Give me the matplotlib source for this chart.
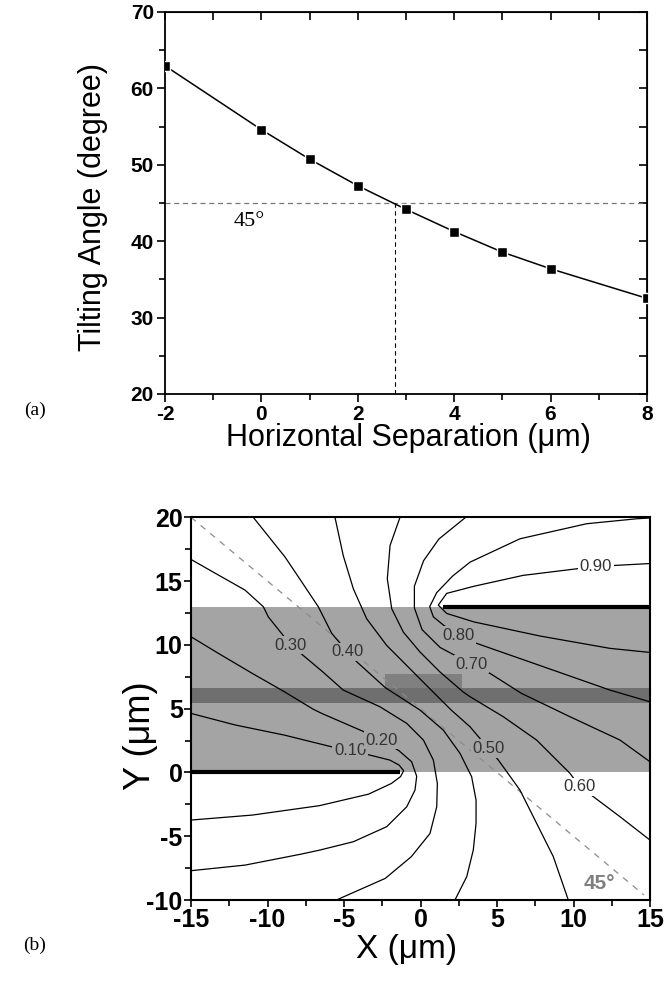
import matplotlib
matplotlib.use("Agg")
import matplotlib.pyplot as plt
from matplotlib.ticker import MultipleLocator

plt.rcParams["axes.unicode_minus"] = False
SANS = "Liberation Sans"
SERIF = "Liberation Serif"

# ---------------- data: panel (a) ----------------
separation = [-2, 0, 1, 2, 3, 4, 5, 6, 8]
tilt_angle = [62.96, 54.6, 50.74, 47.26, 44.17, 41.26, 38.57, 36.39, 32.52]
ref_angle = 45.0
cross_sep = 2.77

# ---------------- data: panel (b) ----------------
lc_layer_x = [-15, 15]
lc_layer_y = [0, 13]
band_y = [5.45, 6.6]
block_x = [-2.3, 2.7]
block_y = [6.6, 7.7]
elec_bottom_x = [-15, -1.35]
elec_bottom_y = [0, 0]
elec_top_x = [1.5, 15]
elec_top_y = [13, 13]
diag_x = [-15, 14.6]
diag_y = [20, -9.6]

c10_x = [-15.0, -12.1, -8.9, -5.8, -3.3, -2.0, -1.4, -1.1, -1.3, -1.9, -3.4, -6.6, -11.0, -15.0]
c10_y = [4.63, 3.72, 2.93, 2.01, 1.36, 0.97, 0.58, 0.14, -0.32, -0.86, -1.7, -2.6, -3.34, -3.73]
c20_x = [-15.0, -13.2, -11.0, -8.9, -7.0, -6.4, -3.8, -2.5, -1.4, -0.58, -0.25, -0.36, -0.9, -2.21, -4.39, -6.57, -7.8, -11.46, -15.0]
c20_y = [10.64, 9.33, 7.77, 6.33, 4.95, 4.6, 3.25, 2.5, 1.7, 0.84, -0.3, -1.38, -2.69, -4.25, -5.43, -6.08, -6.4, -7.26, -7.7]
c30_x = [-15.0, -13.2, -11.47, -10.27, -9.95, -9.08, -8.5, -7.77, -6.4, -5.05, -2.65, -0.9, 0.19, 0.84, 1.1, 1.06, 0.62, -0.6, -2.3, -5.5]
c30_y = [16.7, 15.47, 14.3, 12.99, 12.2, 10.9, 10.0, 9.28, 7.9, 6.46, 5.15, 3.85, 2.54, 0.97, -0.86, -2.69, -4.78, -6.6, -8.3, -10.0]
c40_x = [-10.93, -8.86, -7.83, -6.68, -5.8, -4.78, -4.17, -2.3, -0.03, 1.49, 2.58, 3.34, 3.63, 3.63, 3.45, 3.02, 2.25]
c40_y = [20.0, 16.9, 15.06, 12.99, 10.9, 9.46, 8.68, 6.65, 4.89, 3.32, 1.5, -0.33, -2.16, -3.99, -6.08, -8.17, -10.0]
c50_x = [-5.59, -5.05, -4.39, -3.52, -2.21, -0.69, 0.83, 2.0, 3.24, 4.43, 5.09, 6.5, 7.59, 8.68, 9.66]
c50_y = [20.0, 17.0, 14.4, 12.05, 9.96, 8.13, 6.3, 4.9, 3.58, 1.89, 0.97, -1.38, -3.99, -6.6, -10.0]
c60_x = [-1.34, -1.99, -2.17, -1.88, -1.12, -0.03, 1.28, 2.8, 3.24, 5.41, 7.59, 9.77, 10.42, 11.3, 13.04, 15.0]
c60_y = [20.0, 17.8, 15.19, 12.83, 11.0, 9.44, 7.87, 6.3, 5.94, 4.37, 2.54, -0.07, -1.12, -1.9, -3.47, -5.3]
c70_x = [2.95, 1.2, 0.2, -0.4, -0.4, 0.1, 1.28, 2.37, 3.34, 4.54, 6.6, 9.77, 13.04, 15.0]
c70_y = [20.0, 18.3, 16.6, 14.6, 12.9, 11.2, 9.8, 9.1, 8.5, 7.77, 6.2, 4.37, 2.54, 0.84]
c80_x = [15.0, 14.13, 10.86, 6.5, 3.24, 2.1, 1.06, 0.6, 0.84, 1.5, 2.47, 3.67, 8.03, 12.38, 15.0]
c80_y = [19.95, 19.89, 19.5, 18.32, 16.49, 15.4, 14.1, 13.0, 12.2, 11.55, 10.77, 10.12, 8.29, 6.46, 5.54]
c90_x = [15.0, 11.45, 6.7, 3.5, 1.71, 1.16, 1.71, 3.5, 7.8, 12.38, 15.0]
c90_y = [16.38, 16.15, 15.45, 14.6, 14.04, 13.12, 12.47, 11.8, 10.7, 9.73, 9.41]

contour_labels = ["0.10", "0.20", "0.30", "0.40", "0.50", "0.60", "0.70", "0.80", "0.90"]
label_x = [-4.6, -2.54, -8.53, -4.78, 4.43, 10.42, 3.34, 2.47, 11.45]
label_y = [1.7, 2.54, 9.99, 9.46, 1.89, -1.12, 8.5, 10.77, 16.13]

LIGHT = "#a4a4a4"
BAND = "#6f6f6f"
BLOCK = "#808080"

fig = plt.figure(figsize=(6.66, 9.83), dpi=100)

# ================= panel (a) =================
axA = fig.add_axes([0.2477, 0.5992, 0.7237, 0.3886])
axA.plot(separation, tilt_angle, color="k", lw=1.1, zorder=3)
axA.plot(separation, tilt_angle, ls="none", marker="s", ms=7, mfc="k",
         mec="white", mew=1.0, zorder=4)
axA.plot([separation[0], separation[-1]], [ref_angle, ref_angle],
         ls=(0, (4, 3)), color="#777777", lw=0.9, zorder=2)
axA.plot([cross_sep, cross_sep], [20, ref_angle], ls=(0, (4, 3)),
         color="k", lw=0.8, zorder=2)
axA.text(-0.25, 42.6, "45°", family=SERIF, fontsize=16, ha="center", va="center")
axA.set_xlim(-2, 8)
axA.set_ylim(20, 70)
axA.set_xticks([-2, 0, 2, 4, 6, 8])
axA.set_yticks([20, 30, 40, 50, 60, 70])
axA.xaxis.set_minor_locator(MultipleLocator(1))
axA.yaxis.set_minor_locator(MultipleLocator(5))
axA.tick_params(which="both", direction="out", width=1.2, pad=2)
axA.tick_params(which="major", length=6)
axA.tick_params(which="minor", length=4)
for lab in axA.get_xticklabels() + axA.get_yticklabels():
    lab.set_family(SANS)
    lab.set_fontweight("bold")
    lab.set_fontsize(15)
for s in axA.spines.values():
    s.set_linewidth(1.3)
secx = axA.secondary_xaxis("top")
secx.set_xticks([-2, 0, 2, 4, 6, 8])
secx.xaxis.set_minor_locator(MultipleLocator(1))
secx.tick_params(which="both", direction="in", labeltop=False, width=1.2)
secx.tick_params(which="major", length=6)
secx.tick_params(which="minor", length=6)
secy = axA.secondary_yaxis("right")
secy.set_yticks([20, 30, 40, 50, 60, 70])
secy.yaxis.set_minor_locator(MultipleLocator(5))
secy.tick_params(which="both", direction="in", labelright=False, width=1.2)
secy.tick_params(which="major", length=6)
secy.tick_params(which="minor", length=6)
axA.set_ylabel("Tilting Angle (degree)", family=SANS, fontsize=22)
axA.yaxis.set_label_coords(-0.15, 0.49)
axA.yaxis.label.set_va("center")
axA.set_xlabel("Horizontal Separation (\u03bcm)", family=SANS, fontsize=22)
axA.xaxis.set_label_coords(0.506, -0.115)
axA.xaxis.label.set_va("center")
fig.text(35 / 666, 1 - 410 / 983, "(a)", family=SERIF, fontsize=14,
         ha="center", va="center")

# ================= panel (b) =================
axB = fig.add_axes([0.2868, 0.0844, 0.6892, 0.3893])
axB.fill_between(lc_layer_x, lc_layer_y[0], lc_layer_y[1], color=LIGHT, lw=0, zorder=1)
axB.fill_between(lc_layer_x, band_y[0], band_y[1], color=BAND, lw=0, zorder=1.2)
axB.fill_between(block_x, block_y[0], block_y[1], color=BLOCK, lw=0, zorder=1.1)
axB.plot(diag_x, diag_y, ls=(0, (5, 5)), color="#8c8c8c", lw=0.9, zorder=2)

contours = [(c10_x, c10_y), (c20_x, c20_y), (c30_x, c30_y), (c40_x, c40_y),
            (c50_x, c50_y), (c60_x, c60_y), (c70_x, c70_y), (c80_x, c80_y),
            (c90_x, c90_y)]
for cx, cy in contours:
    axB.plot(cx, cy, color="k", lw=0.9, zorder=3)

for txt, lx, ly in zip(contour_labels, label_x, label_y):
    inside = (lc_layer_y[0] < ly < lc_layer_y[1])
    bg = LIGHT if inside else "white"
    axB.text(lx, ly, txt, family=SANS, fontsize=12, color="#333333",
             ha="center", va="center", zorder=4,
             bbox=dict(boxstyle="square,pad=0.1", fc=bg, ec="none"))

axB.plot(elec_bottom_x, elec_bottom_y, color="k", lw=3, solid_capstyle="butt", zorder=5)
axB.plot(elec_top_x, elec_top_y, color="k", lw=3, solid_capstyle="butt", zorder=5)
axB.text(11.7, -8.7, "45°", family=SANS, fontsize=15, fontweight="bold",
         color="#808080", ha="center", va="center", zorder=4)

axB.set_xlim(-15, 15)
axB.set_ylim(-10, 20)
axB.set_xticks([-15, -10, -5, 0, 5, 10, 15])
axB.set_yticks([-10, -5, 0, 5, 10, 15, 20])
axB.xaxis.set_minor_locator(MultipleLocator(2.5))
axB.yaxis.set_minor_locator(MultipleLocator(2.5))
axB.tick_params(which="both", direction="out", width=1.2, pad=1, top=False, right=False)
axB.tick_params(which="major", length=5)
axB.tick_params(which="minor", length=4)
for lab in axB.get_xticklabels() + axB.get_yticklabels():
    lab.set_family(SANS)
    lab.set_fontweight("bold")
    lab.set_fontsize(18)
for s in axB.spines.values():
    s.set_linewidth(1.5)
    s.set_zorder(6)
axB.set_ylabel("Y (\u03bcm)", family=SANS, fontsize=26)
axB.yaxis.set_label_coords(-0.111, 0.43)
axB.yaxis.label.set_va("center")
axB.set_xlabel("X (\u03bcm)", family=SANS, fontsize=24)
axB.xaxis.set_label_coords(0.47, -0.13)
axB.xaxis.label.set_va("center")
fig.text(35 / 666, 1 - 945 / 983, "(b)", family=SERIF, fontsize=14,
         ha="center", va="center")

fig.savefig("out.png", dpi=100, facecolor="white")
